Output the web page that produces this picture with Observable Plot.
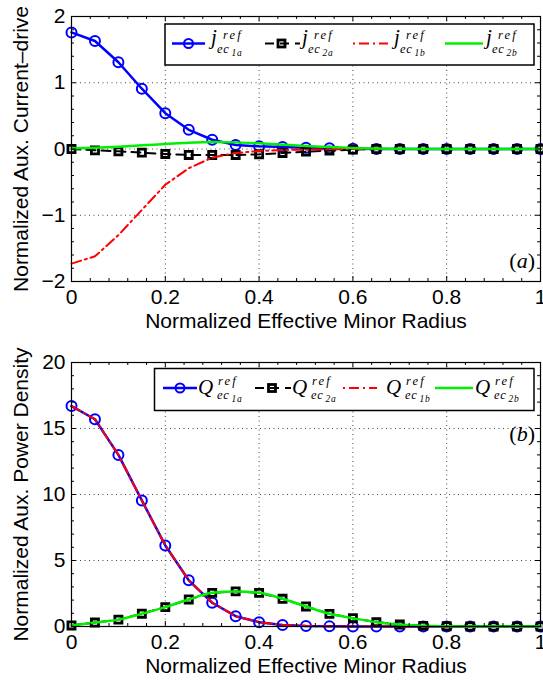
<!DOCTYPE html>
<html>
<head>
<meta charset="utf-8">
<script src="https://cdn.jsdelivr.net/npm/d3@7"></script>
<script src="https://cdn.jsdelivr.net/npm/@observablehq/plot@0.6"></script>
<style>
  html, body { margin: 0; padding: 0; background: white; }
  #wrap { position: relative; width: 543px; height: 685px; overflow: hidden; background: white; }
  #p1, #p2 { position: absolute; left: 0; }
  #p1 { top: 0; }
  #p2 { top: 340px; }
  #ov { position: absolute; left: 0; top: 0; }
</style>
</head>
<body>
<div id="wrap">
  <div id="p1"></div>
  <div id="p2"></div>
  <svg id="ov" width="543" height="685"></svg>
</div>
<script>
// ---- data ----
const radius = [0, 0.05, 0.1, 0.15, 0.2, 0.25, 0.3, 0.35, 0.4, 0.45, 0.5, 0.55, 0.6, 0.65, 0.7, 0.75, 0.8, 0.85, 0.9, 0.95, 1];

const j1a = [1.76, 1.63, 1.31, 0.91, 0.54, 0.29, 0.14, 0.06, 0.04, 0.03, 0.02, 0.01, 0.005, 0, 0, 0, 0, 0, 0, 0, 0];
const j2a = [0, -0.02, -0.035, -0.055, -0.075, -0.09, -0.09, -0.09, -0.08, -0.06, -0.04, -0.025, -0.01, 0, 0, 0, 0, 0, 0, 0, 0];
const j1b = [-1.73, -1.62, -1.30, -0.92, -0.54, -0.29, -0.13, -0.06, -0.03, -0.015, -0.01, -0.005, 0, 0, 0, 0, 0, 0, 0, 0, 0];
const j2b = [0.01, 0.02, 0.035, 0.055, 0.075, 0.095, 0.105, 0.1, 0.085, 0.065, 0.045, 0.03, 0.015, 0.008, 0.003, 0, 0, 0, 0, 0, 0];

const Q1a = [16.7, 15.7, 13.0, 9.55, 6.14, 3.5, 1.8, 0.78, 0.33, 0.12, 0.04, 0.01, 0, 0, 0, 0, 0, 0, 0, 0, 0];
const Q2a = [0.08, 0.3, 0.52, 0.97, 1.47, 2.05, 2.55, 2.66, 2.55, 2.1, 1.52, 0.96, 0.63, 0.33, 0.15, 0.05, 0.02, 0, 0, 0, 0];
const Q1b = [16.7, 15.7, 13.0, 9.55, 6.14, 3.5, 1.8, 0.78, 0.33, 0.12, 0.04, 0.01, 0, 0, 0, 0, 0, 0, 0, 0, 0];
const Q2b = [0.08, 0.3, 0.52, 0.97, 1.47, 2.05, 2.55, 2.66, 2.55, 2.1, 1.52, 0.96, 0.63, 0.33, 0.15, 0.05, 0.02, 0, 0, 0, 0];

const xTicks = [0, 0.2, 0.4, 0.6, 0.8, 1];
const xMinor = [0.04, 0.08, 0.12, 0.16, 0.24, 0.28, 0.32, 0.36, 0.44, 0.48, 0.52, 0.56, 0.64, 0.68, 0.72, 0.76, 0.84, 0.88, 0.92, 0.96];
const jTicks = [-2, -1, 0, 1, 2];
const jMinor = [-1.8, -1.6, -1.4, -1.2, -0.8, -0.6, -0.4, -0.2, 0.2, 0.4, 0.6, 0.8, 1.2, 1.4, 1.6, 1.8];
const qTicks = [0, 5, 10, 15, 20];
const qMinor = [1, 2, 3, 4, 6, 7, 8, 9, 11, 12, 13, 14, 16, 17, 18, 19];

const xLabel = "Normalized Effective Minor Radius";
const jLabel = "Normalized Aux. Current–drive";
const qLabel = "Normalized Aux. Power Density";
const legendSubs = ["1a", "2a", "1b", "2b"];

// ---- helpers ----
const W = 543, ML = 71, MR = 3;
const fmt = d3.format("~g");
const rows = ys => radius.map((x, i) => ({x, y: ys[i]}));

function panel({height, mt, mb, domain, yTicks, yMinor, series, ylabel}) {
  const FW = W - ML - MR, FH = height - mt - mb;
  const gridStyle = {stroke: "#333", strokeWidth: 1, strokeDasharray: "1,3.5", strokeOpacity: 0.9};
  const innerX = xTicks.filter(d => d > 0 && d < 1);
  const innerY = yTicks.filter(d => d > domain[0] && d < domain[1]);
  const [s1, s2, s3, s4] = series;
  const marks = [
    Plot.gridX(innerX, gridStyle),
    Plot.gridY(innerY, gridStyle),
    Plot.line(rows(s1), {x: "x", y: "y", stroke: "#0000ff", strokeWidth: 2.5}),
    Plot.dot(rows(s1), {x: "x", y: "y", r: 5, stroke: "#0000ff", strokeWidth: 2, fill: "none"}),
    Plot.line(rows(s2), {x: "x", y: "y", stroke: "black", strokeWidth: 2, strokeDasharray: "9,6"}),
    Plot.dot(rows(s2), {x: "x", y: "y", r: 4, symbol: "square", stroke: "black", strokeWidth: 2.8, fill: "none"}),
    Plot.line(rows(s3), {x: "x", y: "y", stroke: "#ff0000", strokeWidth: 2, strokeDasharray: "10,4,2,4"}),
    Plot.line(rows(s4), {x: "x", y: "y", stroke: "#00f000", strokeWidth: 2.5, curve: "monotone-x"}),
    Plot.frame({stroke: "black", strokeWidth: 1.2}),
    Plot.ruleX(xTicks, {insetTop: FH - 5, stroke: "black"}),
    Plot.ruleX(xTicks, {insetBottom: FH - 5, stroke: "black"}),
    Plot.ruleX(xMinor, {insetTop: FH - 3, stroke: "black"}),
    Plot.ruleX(xMinor, {insetBottom: FH - 3, stroke: "black"}),
    Plot.ruleY(yTicks, {insetRight: FW - 5, stroke: "black"}),
    Plot.ruleY(yTicks, {insetLeft: FW - 5, stroke: "black"}),
    Plot.ruleY(yMinor, {insetRight: FW - 3, stroke: "black"}),
    Plot.ruleY(yMinor, {insetLeft: FW - 3, stroke: "black"}),
    Plot.axisX({ticks: xTicks, tickSize: 0, tickPadding: 8, tickFormat: fmt, fontSize: 21, label: null}),
    Plot.axisY({ticks: yTicks, tickSize: 0, tickPadding: 6, tickFormat: fmt, fontSize: 21, label: null}),
    Plot.text([xLabel], {text: d => d, frameAnchor: "bottom", textAnchor: "middle", dy: 46, fontSize: 21, fill: "black"}),
    Plot.text([ylabel], {text: d => d, frameAnchor: "left", textAnchor: "middle", dx: -50, rotate: -90, fontSize: 21, fill: "black"})
  ];
  return Plot.plot({
    width: W, height, marginTop: mt, marginBottom: mb, marginLeft: ML, marginRight: MR,
    x: {domain: [0, 1]},
    y: {domain},
    style: {fontFamily: "'Liberation Sans', Arial, sans-serif", background: "transparent", color: "black", overflow: "visible"},
    marks
  });
}

document.getElementById("p1").append(panel({
  height: 340, mt: 16, mb: 59, domain: [-2, 2], yTicks: jTicks, yMinor: jMinor,
  series: [j1a, j2a, j1b, j2b], ylabel: jLabel
}));
document.getElementById("p2").append(panel({
  height: 345, mt: 22, mb: 59, domain: [0, 20], yTicks: qTicks, yMinor: qMinor,
  series: [Q1a, Q2a, Q1b, Q2b], ylabel: qLabel
}));

// ---- legends & panel tags ----
const ov = d3.select("#ov");
const serif = "'Liberation Serif', 'DejaVu Serif', serif";

function sample(g, kind, x1, x2, y) {
  const mid = (x1 + x2) / 2;
  if (kind === 0) {
    g.append("line").attr("x1", x1).attr("x2", x2).attr("y1", y).attr("y2", y).attr("stroke", "#0000ff").attr("stroke-width", 2.5);
    g.append("circle").attr("cx", mid).attr("cy", y).attr("r", 4.5).attr("fill", "none").attr("stroke", "#0000ff").attr("stroke-width", 2);
  } else if (kind === 1) {
    g.append("line").attr("x1", x1).attr("x2", x2).attr("y1", y).attr("y2", y).attr("stroke", "black").attr("stroke-width", 2).attr("stroke-dasharray", "9,6").attr("stroke-dashoffset", -2);
    g.append("rect").attr("x", mid - 3.5).attr("y", y - 3.5).attr("width", 7).attr("height", 7).attr("fill", "none").attr("stroke", "black").attr("stroke-width", 2.8);
  } else if (kind === 2) {
    g.append("line").attr("x1", x1).attr("x2", x2).attr("y1", y).attr("y2", y).attr("stroke", "#ff0000").attr("stroke-width", 2).attr("stroke-dasharray", "2,4,10,4");
  } else {
    g.append("line").attr("x1", x1).attr("x2", x2).attr("y1", y).attr("y2", y).attr("stroke", "#00f000").attr("stroke-width", 2.5);
  }
}

function mathLabel(g, x, B, letter, sub, p) {
  const t = g.append("text").attr("font-family", serif).attr("font-style", "italic");
  t.append("tspan").attr("x", x).attr("y", B).attr("font-size", p.size).text(letter);
  t.append("tspan").attr("x", x + p.supX).attr("y", B + p.supY).attr("font-size", 12.5).attr("letter-spacing", 2.2).text("ref");
  t.append("tspan").attr("x", x + p.subX).attr("y", B + p.subY).attr("font-size", 12.5).attr("letter-spacing", 0.8).text("ec");
  t.append("tspan").attr("x", x + p.subX + 14.5).attr("y", B + p.subY + 3).attr("font-size", 9.5).attr("letter-spacing", 0.8).text(sub);
}

function legend(box, lineY, B, letter, entries, p) {
  const g = ov.append("g");
  g.append("rect").attr("x", box[0]).attr("y", box[1]).attr("width", box[2] - box[0]).attr("height", box[3] - box[1])
    .attr("fill", "white").attr("stroke", "black").attr("stroke-width", 1.5);
  entries.forEach((e, i) => {
    sample(g, i, e[0], e[1], lineY);
    mathLabel(g, e[2], B, letter, legendSubs[i], p);
  });
}

legend([165, 24, 534, 65], 43.5, 44, "j",
  [[172, 205, 211], [263, 300, 302], [353, 388, 394], [445, 483, 486]],
  {size: 21, supX: 12, supY: -5, subX: 6, subY: 9});

legend([154.5, 368.5, 534, 410.5], 388, 394, "Q",
  [[163, 197, 198], [253, 291, 292], [343, 377, 386], [435, 473, 475]],
  {size: 21, supX: 20, supY: -9, subX: 19, subY: 5});

function tag(x, y, letter) {
  const t = ov.append("text").attr("x", x).attr("y", y).attr("text-anchor", "end")
    .attr("font-family", serif).attr("font-size", 22);
  t.append("tspan").text("(");
  t.append("tspan").attr("font-style", "italic").text(letter);
  t.append("tspan").text(")");
}
tag(535, 268, "a");
tag(535, 441, "b");
</script>
</body>
</html>
